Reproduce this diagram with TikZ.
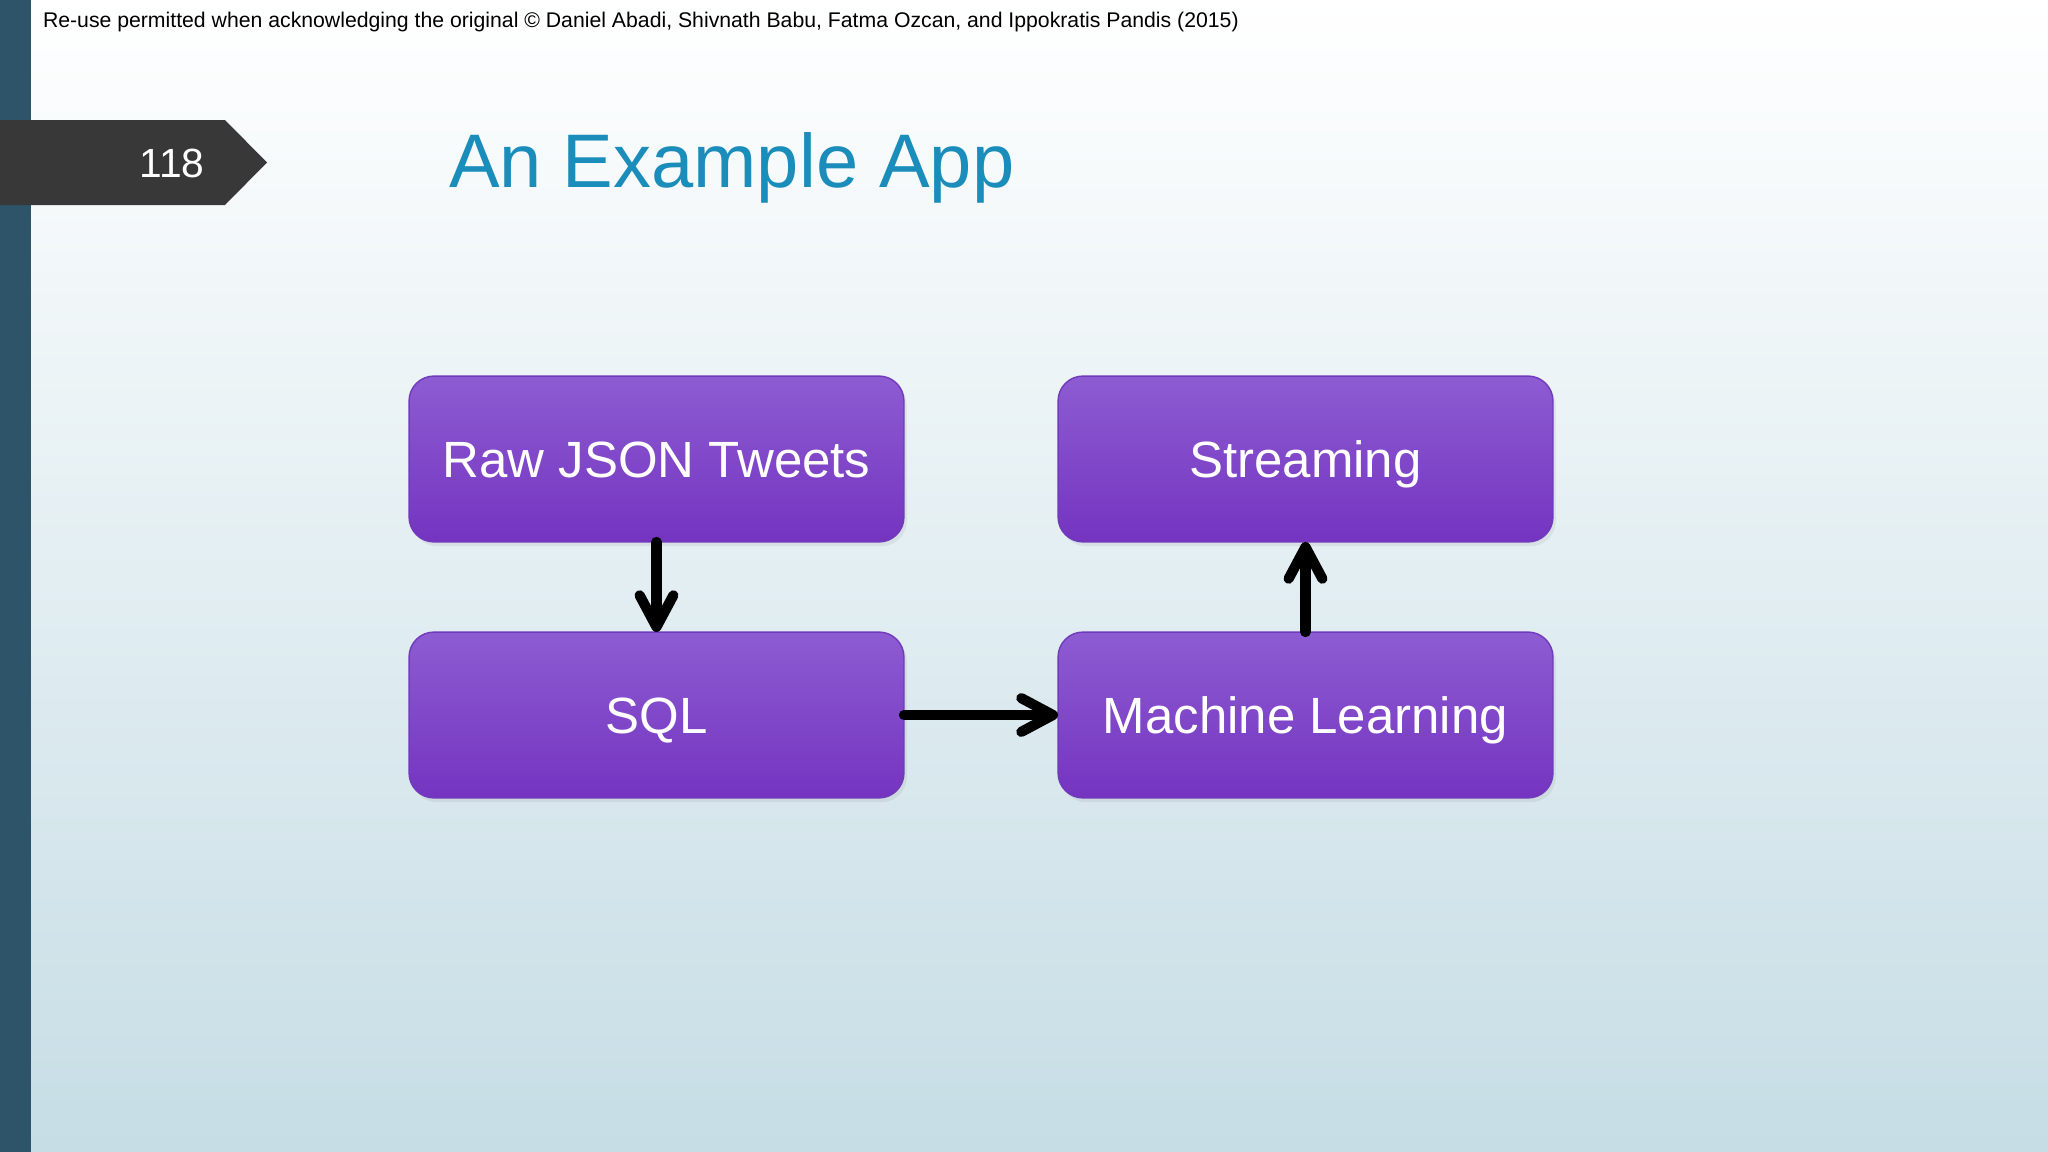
\documentclass[tikz,border=0pt]{standalone}
\usepackage{fontspec}
\setmainfont{Liberation Sans}
\usetikzlibrary{arrows.meta,shadows}
\definecolor{sidebar}{RGB}{45,84,104}
\definecolor{banner}{RGB}{56,56,57}
\definecolor{titleblue}{RGB}{27,141,186}
\definecolor{boxtop}{RGB}{141,92,210}
\definecolor{boxbottom}{RGB}{116,52,192}
\definecolor{boxedge}{RGB}{112,58,186}
\definecolor{bgbottom}{RGB}{198,221,229}

\begin{document}
\begin{tikzpicture}[y=0.2845pt, x=0.2845pt, yscale=-1, inner sep=0pt, outer sep=0pt,
  stepbox/.style={draw=boxedge, line width=0.4pt, top color=boxtop,
    bottom color=boxbottom, rounded corners=7.1pt, minimum width=140.8pt,
    minimum height=47.2pt, text=white, font=\fontsize{14.5}{17}\selectfont,
    text height=10.4pt, text depth=0pt,
    drop shadow={opacity=0.12, shadow xshift=0.8pt, shadow yshift=-1.2pt}},
  flow/.style={line width=2.9pt, line cap=round,
    -{Straight Barb[length=9pt, width=9.6pt, round]}}]
\useasboundingbox (0,0) rectangle (2048,1152);
  \shade[top color=white, bottom color=bgbottom] (0,0) rectangle (2048,1152);
  \fill[sidebar] (0,0) rectangle (31,1152);
  \fill[banner] (0,120) -- (225,120) -- (267,162.5) -- (225,205) -- (0,205) -- cycle;
  \path (172,177) node[anchor=base, text=white, font=\fontsize{11.6}{14}\selectfont]
    (pagenum) {118};
  \path (43,28) node[anchor=base west, font=\fontsize{6.04}{7}\selectfont]
    (credit) {Re-use permitted when acknowledging the original \textcopyright{} Daniel Abadi, Shivnath Babu, Fatma Ozcan, and Ippokratis Pandis (2015)};
  \path (449,187) node[anchor=base west, text=titleblue,
    font=\fontsize{21.6}{26}\selectfont] (title) {An Example App};
  % the four stages
  \node[stepbox] (raw) at (656.5,459) {Raw JSON Tweets};
  \node[stepbox] (sql) at (656.5,715) {SQL};
  \node[stepbox] (stream) at (1305.5,459) {Streaming};
  \node[stepbox] (ml) at (1305.5,715) {Machine Learning};
  \draw[flow] (raw) -- (sql);
  \draw[flow] (sql) -- (ml);
  \draw[flow] (ml) -- (stream);
\end{tikzpicture}
\end{document}
